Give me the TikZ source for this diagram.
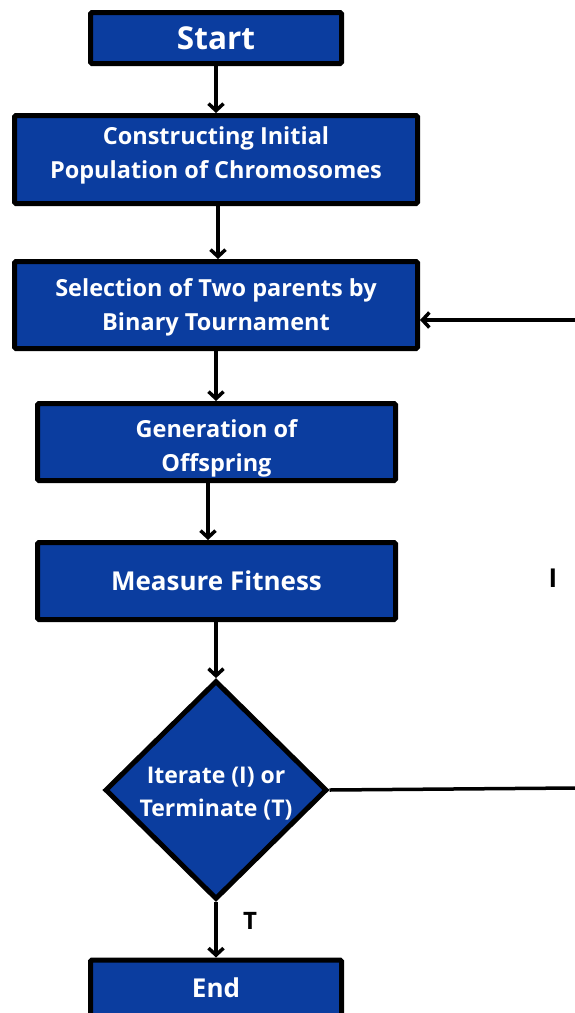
\documentclass[tikz,border=0pt]{standalone}
\usepackage{fontspec}
\setmainfont{Open Sans}
\usetikzlibrary{shapes.geometric,arrows.meta}
\definecolor{boxblue}{HTML}{0B3D9F}
\tikzset{
  box/.style={draw=black, fill=boxblue, line width=5pt, rounded corners=1.5pt, text=white,
    font=\bfseries\fontsize{23.5}{34}\selectfont, align=center, inner sep=0pt},
  dec/.style={draw=black, fill=boxblue, line width=5pt, diamond, text=white,
    font=\bfseries\fontsize{23}{33}\selectfont, align=center, inner sep=0pt,
    minimum width=222pt, minimum height=216pt},
  flow/.style={line width=3.5pt, -{Straight Barb[length=7pt,width=15pt,line width=3.5pt]}},
  lbl/.style={font=\bfseries\fontsize{24}{28}\selectfont, text=black}
}
\newcommand{\twolines}[3]{\raisebox{#1}[\height][\depth]{\begin{tabular}{@{}c@{}}#2\\#3\end{tabular}}}
\begin{document}
\begin{tikzpicture}[x=1pt,y=-1pt]
\clip (0,0) rectangle (575,1013);
\useasboundingbox (0,0) rectangle (575,1013);
\fill[white] (0,0) rectangle (575,1013);
\node[box, minimum width=251pt, minimum height=51pt, font=\bfseries\fontsize{31.5}{34}\selectfont] (start) at (216,38) {Start};
\node[box, minimum width=403pt, minimum height=88pt] (init) at (216,159.5) {\twolines{4.5pt}{Constructing Initial}{Population of Chromosomes}};
\node[box, minimum width=403pt, minimum height=87pt] (sel) at (216,305) {\twolines{-1.5pt}{Selection of Two parents by}{Binary Tournament}};
\node[box, minimum width=358pt, minimum height=77pt] (gen) at (216.5,442) {\twolines{-6pt}{Generation of}{Offspring}};
\node[box, minimum width=358pt, minimum height=77pt, font=\bfseries\fontsize{26}{30}\selectfont] (fit) at (216.5,581) {Measure Fitness};
\node[dec] (dec) at (216,790) {\twolines{-3pt}{Iterate (I) or}{Terminate (T)}};
\node[box, minimum width=251pt, minimum height=60pt, font=\bfseries\fontsize{26}{30}\selectfont] (end) at (216,990) {\raisebox{2pt}[\height][\depth]{End}};
\coordinate (loopb) at (575,788);
\coordinate (loopt) at (575,320);
\draw[flow] (start.south) -- (init.north);
\draw[flow] ([xshift=2pt]init.south) -- ([xshift=2pt]init.south |- sel.north);
\draw[flow] (sel.south) -- (sel.south |- gen.north);
\draw[flow] ([xshift=-8.5pt]gen.south) -- ([xshift=-8.5pt]gen.south |- fit.north);
\draw[flow] ([xshift=-0.5pt]fit.south) -- (dec.north);
\draw[flow] (dec.south) -- node[lbl, right=22pt, pos=0.35] (tl) {T} (end.north);
\draw[line width=3.5pt] (dec.east) -- (loopb);
\draw[flow] (loopt) -- (sel.east |- loopt);
\node[font=\bfseries\fontsize{26}{30}\selectfont, text=black] (il) at (553,578) {I};
\end{tikzpicture}
\end{document}
